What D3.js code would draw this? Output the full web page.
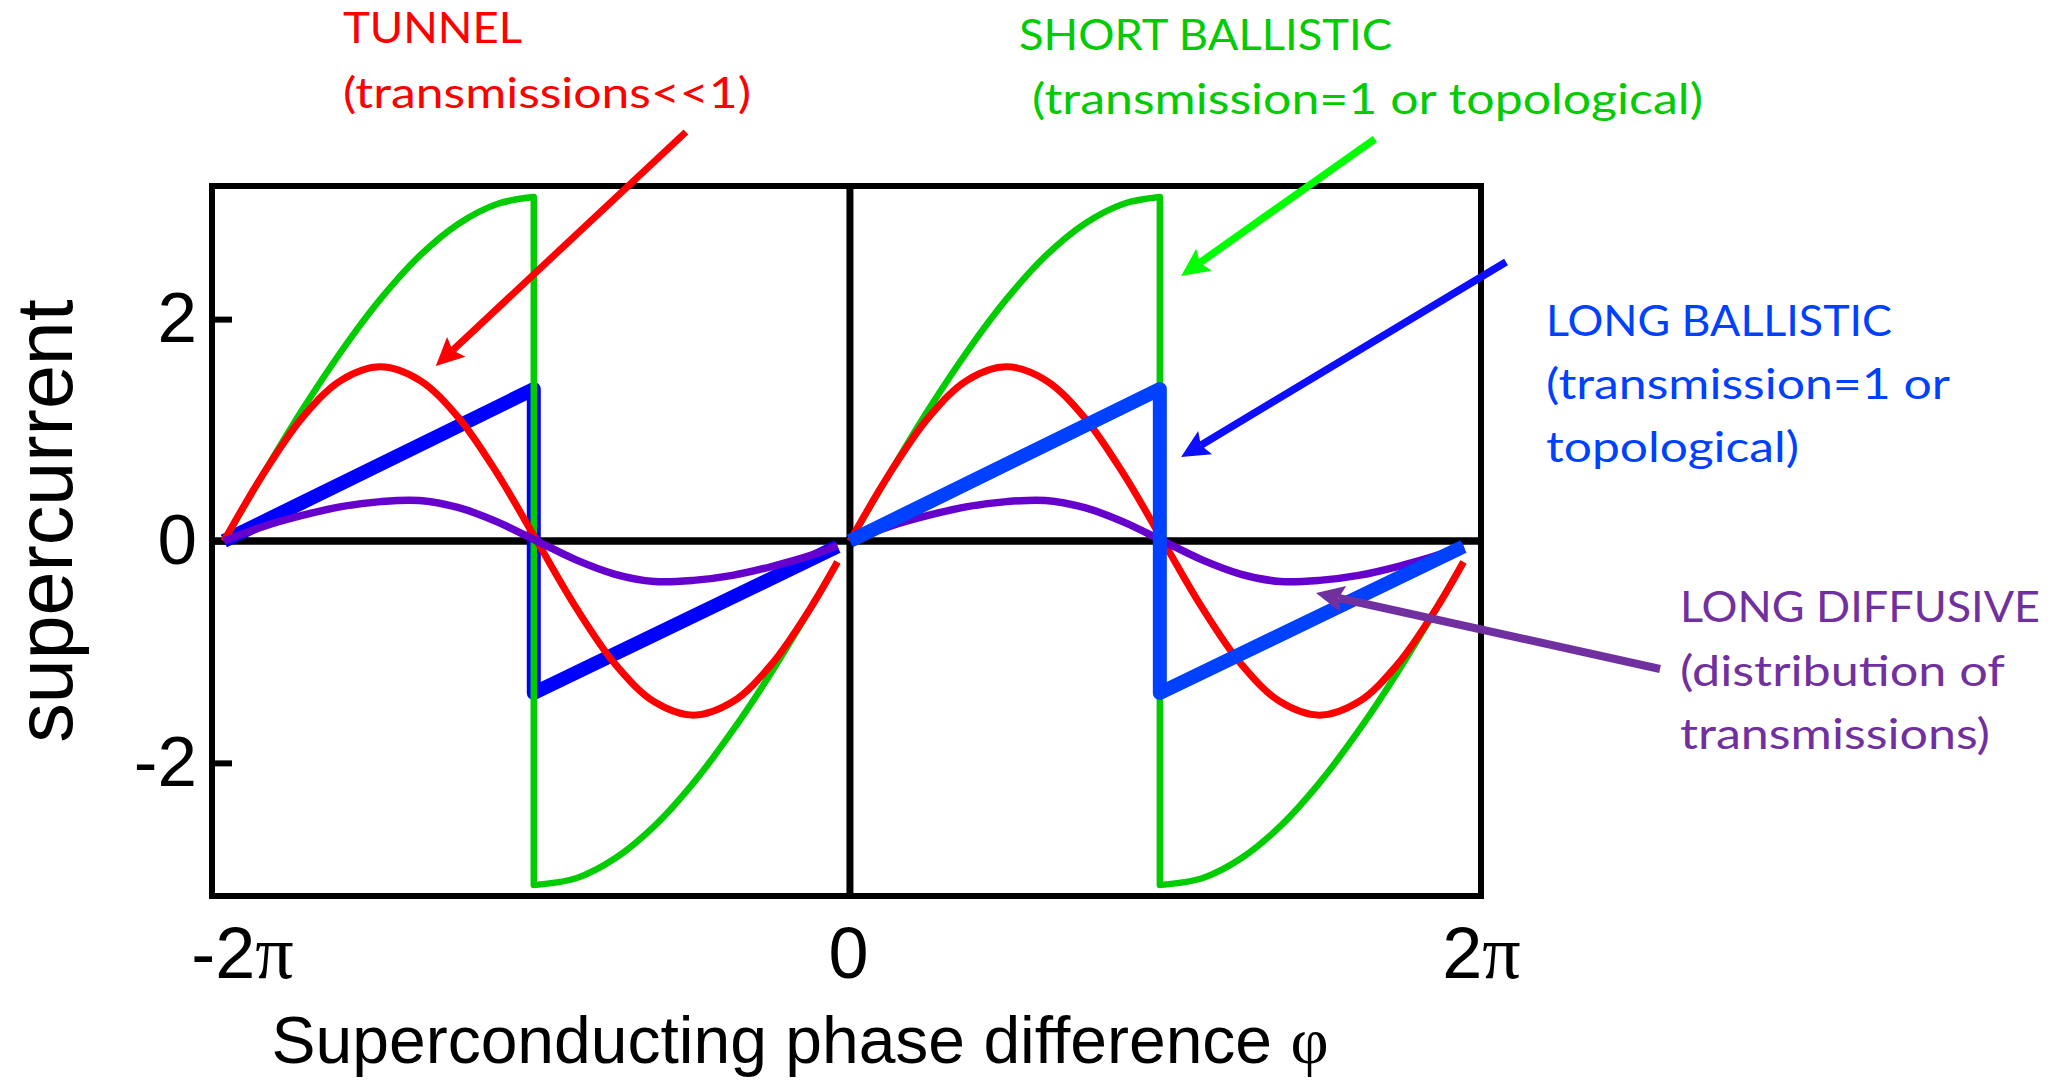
<!DOCTYPE html>
<html>
<head>
<meta charset="utf-8">
<script src="https://cdn.jsdelivr.net/npm/d3@7"></script>
<style>
body { margin: 0; background: #fff; }
svg { display: block; }
</style>
</head>
<body>
<div id="chart"></div>
<script>
// phase is given in units of pi, one period of each curve (repeated at -2pi and 0)
const periodStarts = [-2, 0];

// tunnel junction (transmissions << 1)
const tunnelPhase = [0, 0.125, 0.25, 0.375, 0.5, 0.625, 0.75, 0.875, 1, 1.125, 1.25, 1.375, 1.5, 1.625, 1.75, 1.875, 1.96];
const tunnel = [0, 0.60, 1.11, 1.45, 1.57, 1.45, 1.11, 0.60, 0, -0.60, -1.11, -1.45, -1.57, -1.45, -1.11, -0.60, -0.19];

// long diffusive
const diffusivePhase = [0, 0.125, 0.25, 0.375, 0.5, 0.625, 0.75, 0.875, 1, 1.125, 1.25, 1.375, 1.5, 1.625, 1.75, 1.875, 1.96];
const diffusive = [0, 0.13, 0.23, 0.31, 0.355, 0.365, 0.30, 0.17, 0, -0.17, -0.30, -0.365, -0.355, -0.31, -0.23, -0.13, -0.04];

// short ballistic, two branches around the jump
const shortRisePhase = [0, 0.125, 0.25, 0.375, 0.5, 0.625, 0.75, 0.875, 0.99];
const shortRise = [0, 0.60, 1.18, 1.71, 2.18, 2.57, 2.86, 3.04, 3.10];
const shortFallPhase = [0.99, 1.125, 1.25, 1.375, 1.5, 1.625, 1.75, 1.875, 1.96];
const shortFall = [-3.10, -3.04, -2.86, -2.57, -2.18, -1.71, -1.18, -0.60, -0.19];

// long ballistic sawtooth
const ballisticPhase = [0, 0.99, 0.99, 1.96];
const ballistic = [0, 1.37, -1.37, -0.05];

// axes
const yTicks = [-2, 0, 2];
const xTicks = [-2, 0, 2];

// annotations
const tunnelText = ["TUNNEL", "(transmissions<<1)"];
const shortText = ["SHORT BALLISTIC", "(transmission=1 or topological)"];
const longBallisticText = ["LONG BALLISTIC", "(transmission=1 or", "topological)"];
const diffusiveText = ["LONG DIFFUSIVE", "(distribution of", "transmissions)"];
const arrowFrom = [[-0.524, 3.687], [1.677, 3.624], [2.096, 2.515], [2.588, -1.154]];
const arrowTo = [[-1.323, 1.577], [1.058, 2.389], [1.058, 0.757], [1.489, -0.469]];

const width = 2053, height = 1082;
const frame = { left: 212, right: 1481, top: 186, bottom: 896 };
const sans = "'Liberation Sans', Arial, sans-serif";
const serif = "'Liberation Serif', 'Times New Roman', serif";

const svg = d3.select("#chart").append("svg")
    .attr("width", width)
    .attr("height", height)
    .style("background", "#fff");

const x = d3.scaleLinear().domain([-2.038, 2.016]).range([frame.left, frame.right]);
const y = d3.scaleLinear().domain([-3.2, 3.2]).range([frame.bottom, frame.top]);

// frame and cross lines
svg.append("rect")
    .attr("x", frame.left).attr("y", frame.top)
    .attr("width", frame.right - frame.left)
    .attr("height", frame.bottom - frame.top)
    .attr("fill", "none").attr("stroke", "#000").attr("stroke-width", 6);

svg.append("line")
    .attr("x1", frame.left).attr("x2", frame.right)
    .attr("y1", y(0)).attr("y2", y(0))
    .attr("stroke", "#000").attr("stroke-width", 7.5);

svg.append("line")
    .attr("x1", x(0)).attr("x2", x(0))
    .attr("y1", frame.top).attr("y2", frame.bottom)
    .attr("stroke", "#000").attr("stroke-width", 7);

// y axis
const yAxis = svg.append("g")
    .attr("transform", `translate(${frame.left},0)`)
    .call(d3.axisLeft(y).tickValues(yTicks).tickSizeInner(-20).tickSizeOuter(0)
        .tickPadding(15).tickFormat(d => String(d)));
yAxis.select(".domain").remove();
yAxis.selectAll(".tick line").attr("stroke", "#000").attr("stroke-width", 6);
yAxis.selectAll(".tick text")
    .attr("fill", "#000")
    .style("font-family", sans).style("font-size", "71px");

// x axis labels
const xAxis = svg.append("g")
    .attr("transform", `translate(0,${frame.bottom})`)
    .call(d3.axisBottom(x).tickValues(xTicks).tickSize(0).tickPadding(31)
        .tickFormat(d => d === 0 ? "0" : `${d}π`));
xAxis.select(".domain").remove();
const xNudge = { "-2": 18, "0": -2, "2": 5 };
xAxis.selectAll(".tick text")
    .attr("fill", "#000")
    .style("font-family", sans).style("font-size", "72px")
    .attr("dx", d => xNudge[d])
    .each(function (d) {
        const t = d3.select(this);
        const s = t.text();
        if (s.endsWith("π")) {
            t.text(null);
            t.append("tspan").text(s.slice(0, -1));
            t.append("tspan").style("font-family", serif).style("font-size", "76px").text("π");
        }
    });

// axis titles
svg.append("text")
    .attr("transform", "translate(72,521) rotate(-90)")
    .attr("text-anchor", "middle")
    .style("font-family", sans).style("font-size", "79px")
    .text("supercurrent");

const xTitle = svg.append("text")
    .attr("x", 800).attr("y", 1063)
    .attr("text-anchor", "middle")
    .style("font-family", sans).style("font-size", "66px");
xTitle.append("tspan").text("Superconducting phase difference ");
xTitle.append("tspan").style("font-family", serif).text("φ");

// curves
const smooth = d3.line().x(d => x(d[0])).y(d => y(d[1])).curve(d3.curveCatmullRom.alpha(0.5));
const straight = d3.line().x(d => x(d[0])).y(d => y(d[1]));
const pts = (phase, vals, start) => phase.map((p, i) => [start + p, vals[i]]);

const plot = svg.append("g")
    .attr("fill", "none")
    .attr("stroke-linejoin", "round");

const layers = {
    tunnel: (start) => plot.append("path")
        .attr("d", smooth(pts(tunnelPhase, tunnel, start)))
        .attr("stroke", "#ff0000").attr("stroke-width", 7),
    diffusive: (start) => plot.append("path")
        .attr("d", smooth(pts(diffusivePhase, diffusive, start)))
        .attr("stroke", "#6600cc").attr("stroke-width", 7.5),
    short: (start) => plot.append("path")
        .attr("d", smooth(pts(shortRisePhase, shortRise, start)) +
            smooth(pts(shortFallPhase, shortFall, start)).replace(/^M/, "L"))
        .attr("stroke", "#00cc00").attr("stroke-width", 6.5),
    ballistic: (start) => plot.append("path")
        .attr("d", straight(pts(ballisticPhase, ballistic, start)))
        .attr("stroke", start < 0 ? "#0000ff" : "#0040ff").attr("stroke-width", 14)
};
const layerOrder = [
    ["ballistic", "short", "tunnel", "diffusive"],
    ["short", "tunnel", "diffusive", "ballistic"]
];
periodStarts.forEach((start, i) => layerOrder[i].forEach(k => layers[k](start)));

// arrows
const arrowColors = ["#ff0000", "#00ff00", "#0d0dff", "#7030a0"];
const arrowWidths = [7, 7.5, 7.5, 8];
arrowFrom.forEach((f, i) => {
    const x1 = x(f[0]), y1 = y(f[1]);
    const x2 = x(arrowTo[i][0]), y2 = y(arrowTo[i][1]);
    const len = Math.hypot(x2 - x1, y2 - y1);
    const ux = (x2 - x1) / len, uy = (y2 - y1) / len;
    const nx = -uy, ny = ux;
    const L = 28, W = 13.5, notch = 5;
    svg.append("line")
        .attr("x1", x1).attr("y1", y1)
        .attr("x2", x2 - ux * (L - notch)).attr("y2", y2 - uy * (L - notch))
        .attr("stroke", arrowColors[i]).attr("stroke-width", arrowWidths[i]);
    svg.append("polygon")
        .attr("points", [
            [x2, y2],
            [x2 - ux * L + nx * W, y2 - uy * L + ny * W],
            [x2 - ux * (L - notch), y2 - uy * (L - notch)],
            [x2 - ux * L - nx * W, y2 - uy * L - ny * W]
        ].map(p => p.join(",")).join(" "))
        .attr("fill", arrowColors[i]);
});

// annotation text blocks
function block(lines, xs, baselines, widths, color) {
    lines.forEach((t, i) => {
        svg.append("text")
            .attr("x", xs[i]).attr("y", baselines[i])
            .attr("textLength", widths[i])
            .attr("lengthAdjust", "spacingAndGlyphs")
            .attr("fill", color)
            .style("font-family", "Lato, 'Open Sans', sans-serif")
            .style("font-size", "43px")
            .text(t);
    });
}
block(tunnelText, [343, 343], [43, 108], [179, 408], "#ff0000");
block(shortText, [1019, 1032], [50, 114], [373, 671], "#00cc00");
block(longBallisticText, [1546, 1546, 1546], [336, 399, 462], [346, 404, 253], "#0040ff");
block(diffusiveText, [1680, 1680, 1680], [622, 686, 749], [360, 325, 310], "#7030a0");
</script>
</body>
</html>
